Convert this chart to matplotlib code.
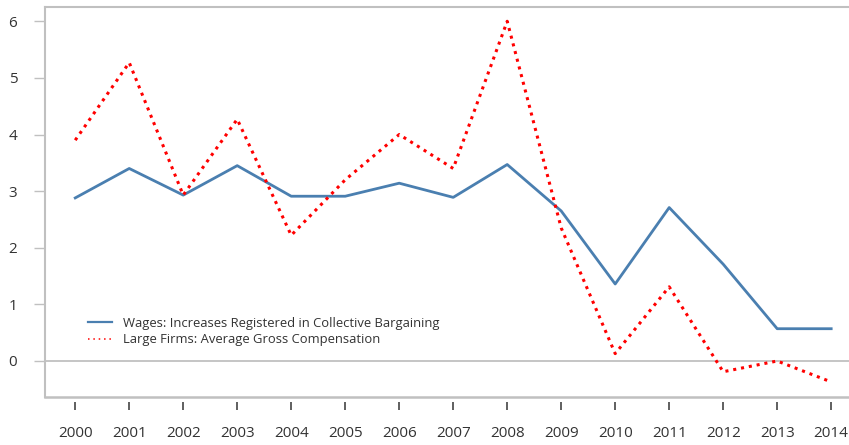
import numpy as np
import matplotlib.pyplot as plt

plt.rcParams['font.family'] = ['Open Sans', 'DejaVu Sans']

# --- Dados ---
years = list(range(2000, 2015))
wages = [2.88, 3.40, 2.93, 3.45, 2.91, 2.91, 3.14, 2.89, 3.47, 2.65, 1.36, 2.71, 1.71, 0.57, 0.57]
large_firms = [3.90, 5.27, 2.93, 4.27, 2.22, 3.20, 4.00, 3.40, 6.00, 2.35, 0.13, 1.31, -0.19, 0.00, -0.37]
yticks = [0, 1, 2, 3, 4, 5, 6]

grey = '#c0c0c0'
txt = '#333333'

fig = plt.figure(figsize=(8.49, 4.45), dpi=100)
ax = fig.add_axes([0.053, 0.108, 0.947, 0.876])

ax.plot(years, wages, color='#4a7fb0', lw=2.0,
        label='Wages: Increases Registered in Collective Bargaining')
ax.plot(years, large_firms, color='red', lw=2.2, linestyle=(0, (1, 1.6)),
        label='Large Firms: Average Gross Compensation')

ax.axhline(0, color=grey, lw=1.3, zorder=0)

ax.set_xlim(1999.44, 2014.33)
ax.set_ylim(-0.635, 6.25)
ax.set_xticks(years)
ax.set_yticks(yticks)

ax.spines['right'].set_visible(False)
for s in ['top', 'left']:
    ax.spines[s].set_color(grey)
    ax.spines[s].set_linewidth(1.5)
ax.spines['bottom'].set_visible(False)
ax.spines['bottom'].set_position(('outward', 4))
ax.axhline(-0.635, color=grey, lw=1.8, clip_on=False)

ax.tick_params(axis='x', length=6, width=1.2, color='#444444', pad=11,
               labelsize=11, labelcolor=txt)
ax.tick_params(axis='y', length=8, width=1.0, color=grey, pad=12,
               labelsize=11, labelcolor=txt)

leg = ax.legend(loc='lower left', bbox_to_anchor=(0.039, 0.10), frameon=False,
                fontsize=9.4, handlelength=1.8, handletextpad=0.9,
                labelspacing=0.25, labelcolor=txt)
hl = leg.get_lines()
hl[0].set_linewidth(1.6)
hl[1].set_linewidth(1.1)
hl[1].set_linestyle((0, (1, 2.5)))

plt.savefig('out.png', dpi=100)
